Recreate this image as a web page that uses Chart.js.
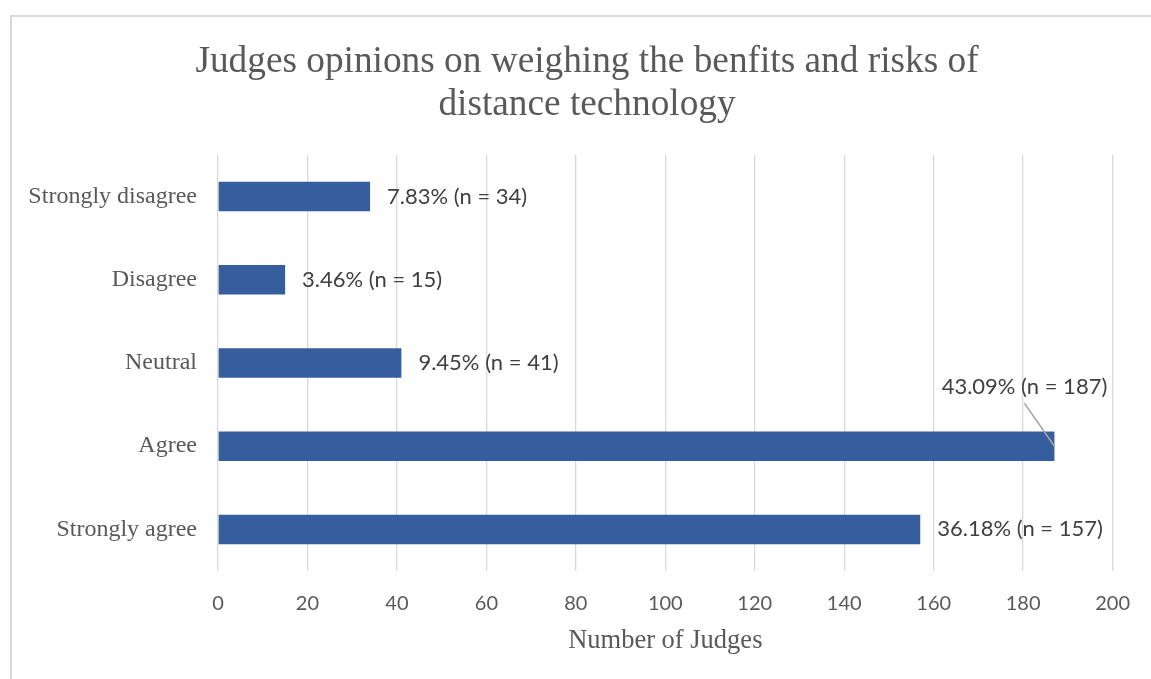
<!DOCTYPE html>
<html>
<head>
<meta charset="utf-8">
<title>Judges opinions on weighing the benfits and risks of distance technology</title>
<script src="https://cdn.jsdelivr.net/npm/chart.js@4.4.1/dist/chart.umd.min.js"></script>
<style>
  html, body { margin: 0; padding: 0; background: #ffffff; }
  #wrap { width: 1151px; height: 679px; }
</style>
</head>
<body>
<div id="wrap"><canvas id="chart" width="1151" height="679"></canvas></div>
<script>
// Survey responses
const categories = ['Strongly disagree', 'Disagree', 'Neutral', 'Agree', 'Strongly agree'];
const judgeCounts = [34, 15, 41, 187, 157];
const judgeShares = ['7.83', '3.46', '9.45', '43.09', '36.18'];
const xTickValues = [0, 20, 40, 60, 80, 100, 120, 140, 160, 180, 200];

const titleLines = ['Judges opinions on weighing the benfits and risks of', 'distance technology'];
const xAxisTitle = 'Number of Judges';

// The label for this category sits above its bar with a leader line
const calloutCategory = 'Agree';

const SERIF = '"Liberation Serif", "Times New Roman", serif';
const SANS = 'Lato, "Open Sans", "Liberation Sans", sans-serif';

// Light grey frame around the chart
const framePlugin = {
  id: 'frame',
  beforeDraw(chart) {
    const { ctx, width, height } = chart;
    ctx.save();
    ctx.fillStyle = '#ffffff';
    ctx.fillRect(0, 0, width, height);
    ctx.strokeStyle = '#d9d9d9';
    ctx.lineWidth = 2;
    ctx.beginPath();
    ctx.moveTo(11, height);
    ctx.lineTo(11, 16);
    ctx.lineTo(width, 16);
    ctx.stroke();
    ctx.restore();
  }
};

// Two-line chart title, centred over the whole frame
const chartTitlePlugin = {
  id: 'chartTitle',
  afterDraw(chart) {
    const { ctx } = chart;
    ctx.save();
    ctx.font = '37.3px ' + SERIF;
    ctx.fillStyle = '#595959';
    ctx.textAlign = 'center';
    ctx.textBaseline = 'alphabetic';
    const centerX = 587;
    const firstBaseline = 72;
    const lineGap = 42.5;
    titleLines.forEach((line, i) => ctx.fillText(line, centerX, firstBaseline + i * lineGap));
    ctx.restore();
  }
};

// Percentage and count written next to each bar
const valueLabelPlugin = {
  id: 'valueLabels',
  afterDatasetsDraw(chart) {
    const { ctx } = chart;
    const meta = chart.getDatasetMeta(0);
    ctx.save();
    ctx.font = '22px ' + SANS;
    ctx.fillStyle = '#404040';
    ctx.textBaseline = 'middle';
    meta.data.forEach((bar, i) => {
      const text = judgeShares[i] + '% (n = ' + judgeCounts[i] + ')';
      if (categories[i] === calloutCategory) {
        const cx = bar.x - 30;
        const cy = bar.y - 59;
        ctx.textAlign = 'center';
        ctx.fillText(text, cx, cy);
        ctx.strokeStyle = '#a6a6a6';
        ctx.lineWidth = 1.5;
        ctx.beginPath();
        ctx.moveTo(cx, cy + 16);
        ctx.lineTo(bar.x, bar.y);
        ctx.stroke();
      } else {
        ctx.textAlign = 'left';
        ctx.fillText(text, bar.x + 17, bar.y);
      }
    });
    ctx.restore();
  }
};

new Chart(document.getElementById('chart'), {
  type: 'bar',
  data: {
    labels: categories,
    datasets: [{
      data: judgeCounts,
      backgroundColor: '#365e9f',
      borderWidth: 0,
      barPercentage: 0.355,
      categoryPercentage: 1
    }]
  },
  options: {
    indexAxis: 'y',
    responsive: false,
    animation: false,
    devicePixelRatio: 1,
    layout: { padding: { left: 0, right: 32, top: 155, bottom: 22 } },
    plugins: {
      legend: { display: false },
      tooltip: { enabled: false },
      title: { display: false }
    },
    scales: {
      x: {
        type: 'linear',
        position: 'bottom',
        min: xTickValues[0],
        max: xTickValues[xTickValues.length - 1],
        afterFit(scale) { scale.height = 86; },
        afterBuildTicks(scale) { scale.ticks = xTickValues.map(v => ({ value: v })); },
        grid: { color: '#d9d9d9', lineWidth: 1.3, drawTicks: false },
        border: { display: false },
        ticks: {
          color: '#595959',
          padding: 21,
          font: { family: SANS, size: 20 }
        },
        title: {
          display: true,
          text: xAxisTitle,
          color: '#595959',
          font: { family: SERIF, size: 26.5, lineHeight: 1.2 },
          padding: { top: 0, bottom: 0 }
        }
      },
      y: {
        afterFit(scale) { scale.width = 218; },
        grid: { display: false, drawTicks: false },
        border: { display: false },
        ticks: {
          color: '#595959',
          padding: 21,
          font: { family: SERIF, size: 24 }
        }
      }
    }
  },
  plugins: [framePlugin, chartTitlePlugin, valueLabelPlugin]
});
</script>
</body>
</html>
